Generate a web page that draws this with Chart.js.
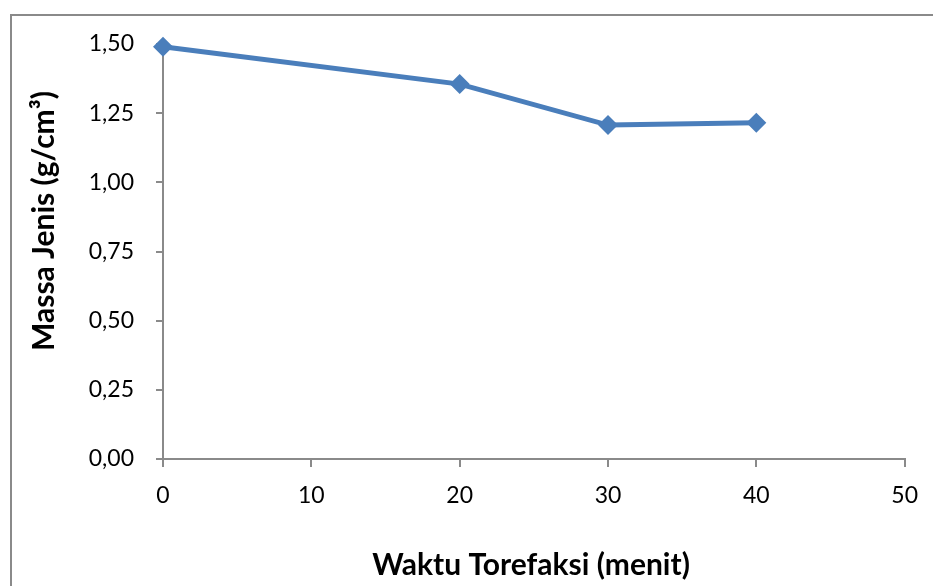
<!DOCTYPE html>
<html>
<head>
<meta charset="utf-8">
<script src="https://cdn.jsdelivr.net/npm/chart.js@4.4.1/dist/chart.umd.min.js"></script>
<style>
html,body{margin:0;padding:0;background:#fff;overflow:hidden;}
#wrap{position:relative;width:933px;height:586px;}
#frame{position:absolute;left:10px;top:14px;width:1000px;height:1000px;border:2px solid #8a8a8a;box-sizing:border-box;}
canvas{position:absolute;left:0;top:0;}
</style>
</head>
<body>
<div id="wrap">
<div id="frame"></div>
<canvas id="c" width="933" height="586"></canvas>
</div>
<script>
const waktu = [0, 20, 30, 40];
const massaJenis = [1.49, 1.355, 1.207, 1.215];
const xTicks = [0, 10, 20, 30, 40, 50];
const yTicks = [0, 0.25, 0.5, 0.75, 1.0, 1.25, 1.5];
const xTitle = 'Waktu Torefaksi (menit)';
const yTitle = 'Massa Jenis (g/cm³)';

const FONT = 'Lato, "Open Sans", sans-serif';
const axisColor = '#8a8a8a';
const lineColor = '#4a7ebb';

const axisTitles = {
  id: 'axisTitles',
  afterDraw(chart) {
    const ctx = chart.ctx;
    ctx.save();
    ctx.fillStyle = '#000';
    ctx.font = 'bold 30px ' + FONT;
    ctx.textAlign = 'center';
    ctx.textBaseline = 'middle';
    ctx.fillText(xTitle, 531, 565);
    ctx.translate(44, 221);
    ctx.rotate(-Math.PI / 2);
    ctx.fillText(yTitle, 0, 0);
    ctx.restore();
  }
};

new Chart(document.getElementById('c'), {
  type: 'line',
  data: {
    datasets: [{
      data: waktu.map((x, i) => ({x: x, y: massaJenis[i]})),
      borderColor: lineColor,
      backgroundColor: lineColor,
      borderWidth: 5,
      pointStyle: 'rectRot',
      pointRadius: 10,
      pointHoverRadius: 10,
      pointBorderWidth: 0,
      tension: 0,
      clip: false
    }]
  },
  options: {
    responsive: false,
    animation: false,
    events: [],
    layout: {padding: {left: 0, top: 44, right: 28, bottom: 0}},
    plugins: {legend: {display: false}, tooltip: {enabled: false}},
    scales: {
      x: {
        type: 'linear',
        min: xTicks[0],
        max: xTicks[xTicks.length - 1],
        afterBuildTicks: s => { s.ticks = xTicks.map(v => ({value: v})); },
        afterFit: s => { s.height = 127; },
        grid: {drawOnChartArea: false, color: axisColor, tickLength: 8, lineWidth: 2},
        border: {color: axisColor, width: 2},
        ticks: {color: '#000', font: {family: FONT, size: 23}, padding: 15, maxRotation: 0},
        title: {display: false}
      },
      y: {
        type: 'linear',
        min: yTicks[0],
        max: yTicks[yTicks.length - 1],
        afterBuildTicks: s => { s.ticks = yTicks.map(v => ({value: v})); },
        afterFit: s => { s.width = 163; },
        grid: {drawOnChartArea: false, color: axisColor, tickLength: 7, lineWidth: 2},
        border: {color: axisColor, width: 2},
        ticks: {color: '#000', font: {family: FONT, size: 23}, padding: 22,
          callback: v => v.toFixed(2).replace('.', ',')},
        title: {display: false}
      }
    }
  },
  plugins: [axisTitles]
});
</script>
</body>
</html>
